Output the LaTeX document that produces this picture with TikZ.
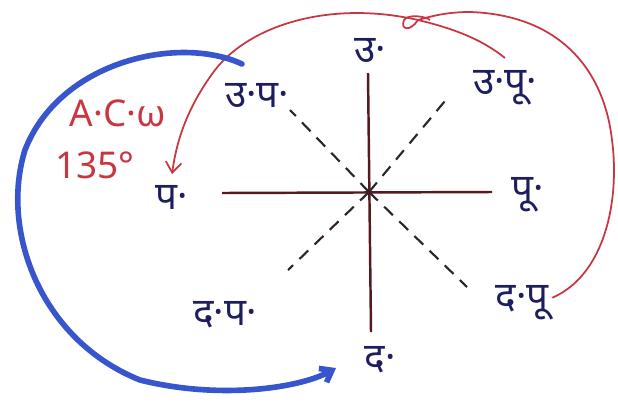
\documentclass[tikz,border=0pt]{standalone}
\usepackage{fontspec}
\setmainfont{Noto Sans}
\newfontfamily\deva[Script=Devanagari]{Noto Sans}
\usetikzlibrary{arrows.meta}
\definecolor{inkblue}{RGB}{28,30,95}
\definecolor{axisred}{RGB}{85,25,30}
\definecolor{dashgray}{RGB}{45,35,40}
\definecolor{penred}{RGB}{200,55,65}
\definecolor{penblue}{RGB}{55,85,205}

\begin{document}
\begin{tikzpicture}[x=0.02cm,y=-0.02cm,>={Straight Barb[length=6pt,width=9pt]},
  dir/.style={text=inkblue,font=\deva\fontsize{22}{26}\selectfont,inner sep=0pt},
  axis/.style={draw=axisred,line width=1.4pt},
  diag/.style={draw=dashgray,line width=1.2pt,dash pattern=on 7pt off 5pt},
  redpen/.style={draw=penred,line width=1pt},
  bluepen/.style={draw=penblue,line width=3.2pt,line cap=round}]
  \useasboundingbox (0,0) rectangle (618,403);
  % direction labels
  \node[dir] (N)  at (370,50)  {उ·};
  \node[dir] (NE) at (505,88)  {उ·पू·};
  \node[dir] (E)  at (528,195) {पू·};
  \node[dir] (SE) at (522,303) {द·पू};
  \node[dir] (S)  at (380,360) {द·};
  \node[dir] (SW) at (225,315) {द·प·};
  \node[dir] (W)  at (172,197) {प·};
  \node[dir] (NW) at (257,95)  {उ·प·};
  % cross and diagonals
  \coordinate (O) at (369,192);
  \coordinate (top) at (368,73);   \coordinate (bot) at (371,332);
  \coordinate (lft) at (222,193);  \coordinate (rgt) at (492,192);
  \draw[axis] (top) -- (bot);
  \draw[axis] (lft) -- (rgt);
  \foreach \p/\q in {450/95,290/110,288/270,467/287}
    \draw[diag] (O) -- (\p,\q);
  % red arc, A.C.W 135
  \coordinate (knot) at (418,20);
  \coordinate (tail) at (505,58);
  \draw[redpen] ([xshift=2pt,yshift=3pt]SE.east) .. controls (605,275) and (620,200) .. (612,140)
    .. controls (604,70) and (560,15) .. (470,12) .. controls (450,12) and (435,15) .. (knot);
  \draw[redpen,->] (knot) .. controls (330,0) and (250,25) .. (215,70)
    .. controls (185,110) and (176,145) .. ([yshift=6pt]W.north);
  \draw[redpen] (knot) .. controls (410,32) and (400,30) .. (404,20) .. controls (408,14) and (425,16) .. (430,20);
  \draw[redpen] (knot) .. controls (460,30) and (485,42) .. (tail);
  \node[text=penred,font=\fontsize{21}{24}\selectfont,inner sep=0pt] (acw) at (118,113) {A·C·ω};
  \node[text=penred,font=\fontsize{21}{24}\selectfont,inner sep=0pt] (deg) at (95,165) {135°};
  % blue arc
  \coordinate (bstart) at (242,64);
  \coordinate (bend) at (336,368);
  \draw[bluepen,->] (bstart) .. controls (180,35) and (60,60) .. (25,150)
    .. controls (0,230) and (40,340) .. (140,380)
    .. controls (220,400) and (300,388) .. (bend);
\end{tikzpicture}
\end{document}
